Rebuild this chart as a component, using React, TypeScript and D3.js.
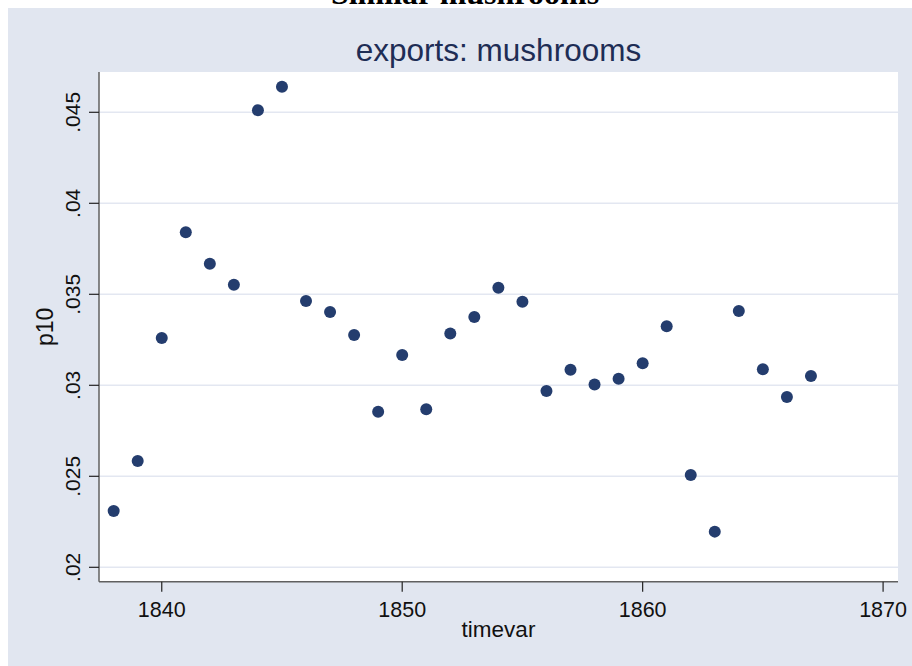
import React from "react";
import * as d3 from "d3";

const years = [
  1838, 1839, 1840, 1841, 1842, 1843, 1844, 1845, 1846, 1847,
  1848, 1849, 1850, 1851, 1852, 1853, 1854, 1855, 1856, 1857,
  1858, 1859, 1860, 1861, 1862, 1863, 1864, 1865, 1866, 1867,
];
const p10 = [
  0.0231, 0.02584, 0.0326, 0.03841, 0.03668, 0.03552, 0.04511, 0.04641, 0.03463, 0.03403,
  0.03276, 0.02855, 0.03167, 0.02868, 0.03284, 0.03375, 0.03536, 0.03459, 0.02969, 0.03086,
  0.03005, 0.03036, 0.03121, 0.03324, 0.02507, 0.02196, 0.03408, 0.03088, 0.02936, 0.03051,
];
const xTicks = [1840, 1850, 1860, 1870];
const yTicks = [0.02, 0.025, 0.03, 0.035, 0.04, 0.045];
const yTickLabels = [".02", ".025", ".03", ".035", ".04", ".045"];
const pageTitle = "Similar mushrooms";
const chartTitle = "exports: mushrooms";
const xTitle = "timevar";
const yTitle = "p10";

export default function App() {
  const W = 912;
  const H = 666;
  const left = 99;
  const right = 898;
  const top = 72;
  const bottom = 581.7;
  const x = d3.scaleLinear().domain([1837.39, 1870.62]).range([left, right]);
  const y = d3.scaleLinear().domain([0.019209, 0.047214]).range([bottom, top]);
  const font = "'Liberation Sans', Arial, Helvetica, sans-serif";
  const bg = "#e1e6f0";
  return (
    <svg
      width={W}
      height={H}
      style={{ position: "fixed", left: 0, top: 0, display: "block" }}
    >
      <rect x={0} y={0} width={W} height={H} fill="#ffffff" />
      <rect x={8} y={8} width={W - 8} height={H - 8} fill={bg} />
      <text
        x={465}
        y={4}
        textAnchor="middle"
        fontFamily="'Liberation Serif', 'Times New Roman', serif"
        fontWeight="bold"
        fontSize={32}
        fill="#000"
      >
        {pageTitle}
      </text>
      <text
        x={(left + right) / 2}
        y={61}
        textAnchor="middle"
        fontFamily={font}
        fontSize={31.5}
        fill="#1e2d55"
      >
        {chartTitle}
      </text>
      <rect x={left} y={top} width={right - left} height={bottom - top} fill="#ffffff" />
      {yTicks.map((t) => (
        <line
          key={"g" + t}
          x1={left}
          x2={right}
          y1={y(t)}
          y2={y(t)}
          stroke="#e3e7f1"
          strokeWidth={1.6}
        />
      ))}
      <line x1={left} x2={left} y1={top} y2={bottom} stroke="#606060" strokeWidth={1.5} />
      <line x1={left} x2={right} y1={bottom} y2={bottom} stroke="#606060" strokeWidth={1.5} />
      {yTicks.map((t, i) => (
        <g key={"yt" + t}>
          <line x1={left - 10} x2={left} y1={y(t)} y2={y(t)} stroke="#222" strokeWidth={1.2} />
          <text
            transform={`translate(80,${y(t)}) rotate(-90)`}
            textAnchor="middle"
            fontFamily={font}
            fontSize={21}
            fill="#111"
          >
            {yTickLabels[i]}
          </text>
        </g>
      ))}
      {xTicks.map((t) => (
        <g key={"xt" + t}>
          <line x1={x(t)} x2={x(t)} y1={bottom} y2={bottom + 10} stroke="#222" strokeWidth={1.2} />
          <text
            x={x(t)}
            y={617}
            textAnchor="middle"
            fontFamily={font}
            fontSize={21.5}
            fill="#111"
          >
            {t}
          </text>
        </g>
      ))}
      <text
        x={(left + right) / 2}
        y={637}
        textAnchor="middle"
        fontFamily={font}
        fontSize={22.5}
        fill="#111"
      >
        {xTitle}
      </text>
      <text
        transform={`translate(53,${(top + bottom) / 2}) rotate(-90)`}
        textAnchor="middle"
        fontFamily={font}
        fontSize={23}
        fill="#111"
      >
        {yTitle}
      </text>
      {years.map((yr, i) => (
        <circle key={yr} cx={x(yr)} cy={y(p10[i])} r={6} fill="#243d6e" />
      ))}
    </svg>
  );
}
